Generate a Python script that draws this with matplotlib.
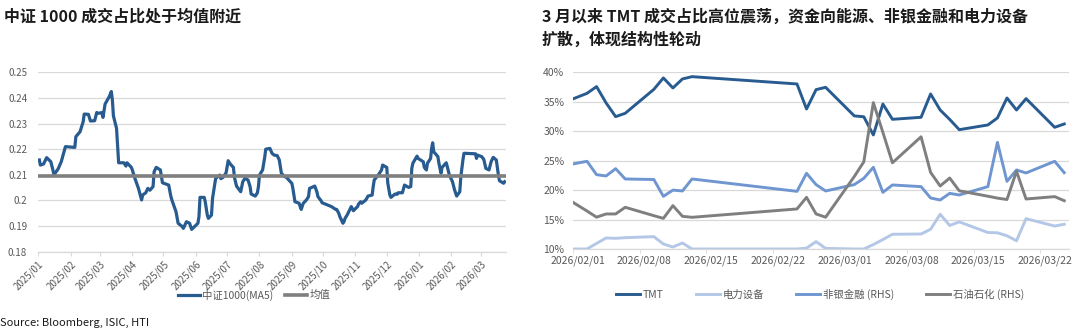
import matplotlib
matplotlib.use("Agg")
import matplotlib.pyplot as plt
import matplotlib.dates as mdates
from matplotlib.ticker import FixedLocator, FuncFormatter
import pandas as pd
import numpy as np

plt.rcParams['font.family'] = ['Noto Sans CJK SC', 'DejaVu Sans']

# ---------------- left chart data ----------------
csi1000_dates = [
    "2025-01-02", "2025-01-03", "2025-01-06", "2025-01-09", "2025-01-13", "2025-01-15", "2025-01-16",
    "2025-01-20", "2025-01-23", "2025-01-27", "2025-02-05", "2025-02-06", "2025-02-10", "2025-02-13",
    "2025-02-14", "2025-02-18", "2025-02-20", "2025-02-24", "2025-02-26", "2025-02-28", "2025-03-03",
    "2025-03-04", "2025-03-06", "2025-03-10", "2025-03-12", "2025-03-13", "2025-03-14", "2025-03-17",
    "2025-03-19", "2025-03-24", "2025-03-26", "2025-03-27", "2025-03-31", "2025-04-01", "2025-04-03",
    "2025-04-07", "2025-04-10", "2025-04-11", "2025-04-14", "2025-04-16", "2025-04-18", "2025-04-21",
    "2025-04-22", "2025-04-24", "2025-04-28", "2025-04-30", "2025-05-06", "2025-05-08", "2025-05-09",
    "2025-05-13", "2025-05-15", "2025-05-19", "2025-05-20", "2025-05-23", "2025-05-26", "2025-05-28",
    "2025-06-03", "2025-06-04", "2025-06-05", "2025-06-09", "2025-06-10", "2025-06-12", "2025-06-13",
    "2025-06-16", "2025-06-17", "2025-06-19", "2025-06-20", "2025-06-24", "2025-06-25", "2025-06-27",
    "2025-06-30", "2025-07-02", "2025-07-04", "2025-07-07", "2025-07-08", "2025-07-10", "2025-07-14",
    "2025-07-16", "2025-07-18", "2025-07-21", "2025-07-23", "2025-07-24", "2025-07-28", "2025-07-30",
    "2025-07-31", "2025-08-01", "2025-08-04", "2025-08-06", "2025-08-07", "2025-08-11", "2025-08-13",
    "2025-08-15", "2025-08-18", "2025-08-20", "2025-08-22", "2025-08-25", "2025-08-27", "2025-08-29",
    "2025-09-01", "2025-09-02", "2025-09-04", "2025-09-08", "2025-09-09", "2025-09-10", "2025-09-12",
    "2025-09-15", "2025-09-17", "2025-09-18", "2025-09-22", "2025-09-23", "2025-09-25", "2025-09-26",
    "2025-09-29", "2025-09-30", "2025-10-09", "2025-10-13", "2025-10-14", "2025-10-16", "2025-10-17",
    "2025-10-20", "2025-10-21", "2025-10-22", "2025-10-24", "2025-10-28", "2025-10-30", "2025-11-03",
    "2025-11-04", "2025-11-06", "2025-11-07", "2025-11-11", "2025-11-13", "2025-11-17", "2025-11-18",
    "2025-11-19", "2025-11-21", "2025-11-24", "2025-11-26", "2025-11-27", "2025-12-01", "2025-12-02",
    "2025-12-04", "2025-12-05", "2025-12-09", "2025-12-11", "2025-12-12", "2025-12-16", "2025-12-18",
    "2025-12-22", "2025-12-24", "2025-12-25", "2025-12-26", "2025-12-30", "2025-12-31", "2026-01-05",
    "2026-01-06", "2026-01-08", "2026-01-09", "2026-01-12", "2026-01-13", "2026-01-14", "2026-01-15",
    "2026-01-19", "2026-01-20", "2026-01-22", "2026-01-23", "2026-01-27", "2026-01-28", "2026-01-30",
    "2026-02-02", "2026-02-04", "2026-02-06", "2026-02-09", "2026-02-10", "2026-02-12", "2026-02-13",
    "2026-02-24", "2026-02-25", "2026-02-26", "2026-03-02", "2026-03-04", "2026-03-06", "2026-03-09",
    "2026-03-11", "2026-03-13", "2026-03-16", "2026-03-18", "2026-03-19", "2026-03-23", "2026-03-24",
]
csi1000_ma5 = [
    0.2158, 0.2138, 0.2142, 0.2167, 0.2151, 0.2119, 0.2100,
    0.2123, 0.2151, 0.2210, 0.2207, 0.2249, 0.2268, 0.2307,
    0.2337, 0.2336, 0.2310, 0.2311, 0.2343, 0.2340, 0.2343,
    0.2324, 0.2376, 0.2405, 0.2425, 0.2392, 0.2330, 0.2281,
    0.2147, 0.2147, 0.2134, 0.2147, 0.2130, 0.2121, 0.2093,
    0.2047, 0.2002, 0.2021, 0.2030, 0.2047, 0.2040, 0.2054,
    0.2112, 0.2129, 0.2119, 0.2069, 0.2060, 0.2017, 0.2002,
    0.1956, 0.1911, 0.1898, 0.1891, 0.1917, 0.1911, 0.1887,
    0.1911, 0.1937, 0.2012, 0.2012, 0.1995, 0.1943, 0.1930,
    0.1943, 0.2008, 0.2060, 0.2086, 0.2099, 0.2085, 0.2090,
    0.2108, 0.2155, 0.2142, 0.2129, 0.2090, 0.2056, 0.2034,
    0.2073, 0.2086, 0.2080, 0.2054, 0.2025, 0.2017, 0.2030,
    0.2054, 0.2099, 0.2119, 0.2168, 0.2200, 0.2203, 0.2184,
    0.2177, 0.2175, 0.2158, 0.2106, 0.2093, 0.2090, 0.2080,
    0.2067, 0.2047, 0.1995, 0.1989, 0.1976, 0.1965, 0.1989,
    0.2002, 0.2015, 0.2047, 0.2054, 0.2056, 0.2034, 0.2015,
    0.1999, 0.1991, 0.1976, 0.1965, 0.1965, 0.1950, 0.1937,
    0.1911, 0.1917, 0.1930, 0.1943, 0.1976, 0.1960, 0.1976,
    0.1986, 0.1995, 0.1989, 0.2002, 0.2017, 0.2021, 0.2054,
    0.2080, 0.2090, 0.2106, 0.2119, 0.2138, 0.2129, 0.2067,
    0.2021, 0.2012, 0.2025, 0.2024, 0.2030, 0.2030, 0.2060,
    0.2051, 0.2054, 0.2125, 0.2145, 0.2173, 0.2164, 0.2151,
    0.2129, 0.2119, 0.2145, 0.2164, 0.2203, 0.2225, 0.2190,
    0.2171, 0.2145, 0.2106, 0.2129, 0.2147, 0.2132, 0.2099,
    0.2073, 0.2041, 0.2017, 0.2034, 0.2093, 0.2158, 0.2184,
    0.2182, 0.2164, 0.2177, 0.2171, 0.2160, 0.2125, 0.2119,
    0.2151, 0.2168, 0.2158, 0.2099, 0.2077, 0.2067, 0.2073,
]
mean_value = 0.2095
left_yticks = [0.18, 0.19, 0.20, 0.21, 0.22, 0.23, 0.24, 0.25]
left_labels = ["中证1000(MA5)", "均值"]

# ---------------- right chart data ----------------
sector_dates = [
    "2026-01-30", "2026-02-02", "2026-02-03", "2026-02-04", "2026-02-05", "2026-02-06",
    "2026-02-09", "2026-02-10", "2026-02-11", "2026-02-12", "2026-02-13",
    "2026-02-24", "2026-02-25", "2026-02-26", "2026-02-27",
    "2026-03-02", "2026-03-03", "2026-03-04", "2026-03-05", "2026-03-06",
    "2026-03-09", "2026-03-10", "2026-03-11", "2026-03-12", "2026-03-13",
    "2026-03-16", "2026-03-17", "2026-03-18", "2026-03-19", "2026-03-20",
    "2026-03-23", "2026-03-24",
]
tmt = [34.5, 36.43, 37.57, 34.8, 32.47, 33.04,
       37.1, 39.04, 37.34, 38.87, 39.26,
       38.02, 33.77, 37.06, 37.45,
       32.6, 32.45, 29.36, 34.62, 32.02,
       32.36, 36.32, 33.6, 32.0, 30.26,
       31.06, 32.25, 35.64, 33.6, 35.53,
       30.66, 31.23]
power_equip = [10.0, 10.0, 10.95, 11.87, 11.81, 11.92,
               12.1, 10.85, 10.34, 11.02, 10.0,
               10.0, 10.15, 11.25, 10.1,
               10.0, 10.0, 10.75, 11.6, 12.5,
               12.55, 13.35, 15.9, 14.0, 14.6,
               12.8, 12.75, 12.25, 11.4, 15.15,
               13.9, 14.2]
nonbank_fin = [23.97, 24.89, 22.62, 22.4, 23.64, 21.89,
               21.8, 18.94, 20.0, 19.85, 21.89,
               19.79, 22.85, 20.93, 19.85,
               20.93, 22.0, 23.87, 19.62, 20.87,
               20.59, 18.66, 18.32, 19.45, 19.17,
               20.59, 28.11, 21.49, 23.42, 22.91,
               24.89, 22.96]
petro_chem = [19.45, 16.45, 15.4, 15.95, 15.95, 17.08,
              15.66, 15.2, 17.36, 15.55, 15.38,
              16.8, 18.77, 15.95, 15.4,
              22.3, 24.8, 34.85, 29.8, 24.64,
              29.05, 23.0, 20.7, 22.05, 19.88,
              18.96, 18.64, 18.4, 23.19, 18.49,
              18.89, 18.2]
sector_labels = ["TMT", "电力设备", "非银金融 (RHS)", "石油石化 (RHS)"]
right_yticks = [10, 15, 20, 25, 30, 35, 40]
right_xtick_dates = ["2026-02-01", "2026-02-08", "2026-02-15", "2026-02-22",
                     "2026-03-01", "2026-03-08", "2026-03-15", "2026-03-22"]

# ---------------- styling ----------------
DARK_BLUE = "#285B8F"
LIGHT_BLUE = "#B4C7E7"
MID_BLUE = "#6F96D1"
GRAY = "#7F7F7F"
GRID = "#D9D9D9"
TICK_TXT = "#595959"

W, H = 1080, 334
fig = plt.figure(figsize=(W / 100, H / 100), dpi=100)

def box(x0, y0, x1, y1):
    return [x0 / W, 1 - y1 / H, (x1 - x0) / W, (y1 - y0) / H]

# ---------- left chart ----------
axL = fig.add_axes(box(38.3, 72.3, 505.7, 251.7))
ld = pd.to_datetime(csi1000_dates)
axL.plot(ld, csi1000_ma5, color=DARK_BLUE, lw=2.3, solid_joinstyle='round',
         label=left_labels[0], zorder=2)
axL.axhline(mean_value, color=GRAY, lw=2.6, label=left_labels[1], zorder=3)
axL.set_xlim(pd.Timestamp("2025-01-01"), pd.Timestamp("2026-03-25"))
axL.set_ylim(0.18, 0.25)
axL.yaxis.set_major_locator(FixedLocator(left_yticks))
axL.yaxis.set_major_formatter(FuncFormatter(lambda v, p: f"{round(v, 2):g}"))
axL.xaxis.set_major_locator(mdates.MonthLocator())
axL.xaxis.set_major_formatter(mdates.DateFormatter("%Y/%m"))
axL.grid(axis='y', color=GRID, lw=0.9)
axL.set_axisbelow(True)
for s in ['top', 'right', 'left']:
    axL.spines[s].set_visible(False)
axL.spines['bottom'].set_color(GRID)
axL.spines['bottom'].set_linewidth(0.9)
axL.tick_params(axis='y', length=0, labelsize=7, labelcolor=TICK_TXT, pad=8)
axL.tick_params(axis='x', length=3, color=GRID, labelsize=7, labelcolor=TICK_TXT, pad=2)
for lab in axL.get_xticklabels():
    lab.set_rotation(45)
    lab.set_ha('right')
    lab.set_rotation_mode('anchor')
legL = fig.legend(handles=axL.get_lines(), labels=left_labels, loc='center',
                  bbox_to_anchor=(254 / W, 1 - 295 / H), ncol=2, frameon=False,
                  fontsize=7.5, handlelength=2.1, columnspacing=1.1, handletextpad=0.25)
for t in legL.get_texts():
    t.set_color(TICK_TXT)

# ---------- right chart ----------
axR = fig.add_axes(box(572.7, 72.3, 1069, 249))
rd = pd.to_datetime(sector_dates) + pd.Timedelta(hours=12)
axR.plot(rd, tmt, color=DARK_BLUE, lw=2.1, label=sector_labels[0], zorder=2)
axR.plot(rd, power_equip, color=LIGHT_BLUE, lw=2.1, label=sector_labels[1], zorder=3)
axR.plot(rd, nonbank_fin, color=MID_BLUE, lw=2.1, label=sector_labels[2], zorder=4)
axR.plot(rd, petro_chem, color=GRAY, lw=2.1, label=sector_labels[3], zorder=5)
axR.set_xlim(pd.Timestamp("2026-02-01"), pd.Timestamp("2026-03-25"))
axR.set_ylim(10, 40)
axR.yaxis.set_major_locator(FixedLocator(right_yticks))
axR.yaxis.set_major_formatter(FuncFormatter(lambda v, p: f"{v:.0f}%"))
tick_days = pd.to_datetime(right_xtick_dates)
axR.set_xticks(mdates.date2num(tick_days + pd.Timedelta(hours=12)))
axR.set_xticklabels([d.strftime("%Y/%m/%d") for d in tick_days])
axR.set_xticks(mdates.date2num(tick_days), minor=True)
axR.grid(axis='y', color=GRID, lw=0.9)
axR.set_axisbelow(True)
for s in ['top', 'right', 'left']:
    axR.spines[s].set_visible(False)
axR.spines['bottom'].set_color(GRID)
axR.spines['bottom'].set_linewidth(0.9)
axR.tick_params(axis='y', length=0, labelsize=7.5, labelcolor=TICK_TXT, pad=6)
axR.tick_params(axis='x', which='major', length=0, labelsize=7.5, labelcolor=TICK_TXT, pad=5)
axR.tick_params(axis='x', which='minor', length=3, color=GRID)
legR = fig.legend(handles=axR.get_lines(), labels=sector_labels, loc='center',
                  bbox_to_anchor=(820 / W, 1 - 294 / H), ncol=4, frameon=False,
                  fontsize=7.5, handlelength=2.3, columnspacing=3.1, handletextpad=0.25)
for t in legR.get_texts():
    t.set_color(TICK_TXT)

# ---------- titles & source ----------
fig.text(4 / W, 1 - 17 / H, "中证 1000 成交占比处于均值附近", fontsize=11.5,
         fontweight='bold', va='center', ha='left', color='#1a1a1a')
fig.text(542 / W, 1 - 17 / H, "3 月以来 TMT 成交占比高位震荡，资金向能源、非银金融和电力设备",
         fontsize=11.5, fontweight='bold', va='center', ha='left', color='#1a1a1a')
fig.text(542 / W, 1 - 40 / H, "扩散，体现结构性轮动",
         fontsize=11.5, fontweight='bold', va='center', ha='left', color='#1a1a1a')
fig.text(0 / W, 1 - 323 / H, "Source: Bloomberg, ISIC, HTI", fontsize=8,
         va='center', ha='left', color='#1a1a1a')

fig.savefig("out.png", dpi=100)
